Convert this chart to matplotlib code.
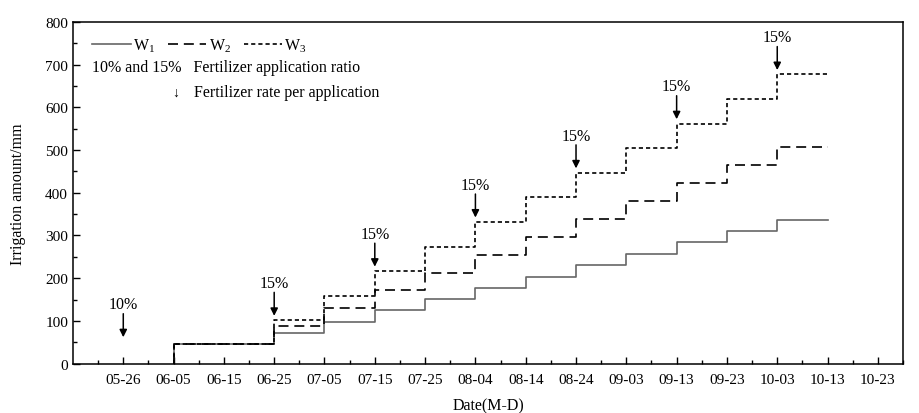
import datetime as dt
import matplotlib
matplotlib.use("Agg")
import matplotlib.pyplot as plt
import matplotlib.dates as mdates

plt.rcParams['font.family'] = ['Liberation Serif', 'DejaVu Serif']
plt.rcParams['mathtext.fontset'] = 'custom'
plt.rcParams['mathtext.rm'] = 'Liberation Serif'
plt.rcParams['mathtext.it'] = 'Liberation Serif:italic'

# irrigation dates (M-D) and cumulative irrigation amount (mm)
step_dates = ['06-05', '06-25', '07-05', '07-15', '07-25', '08-04', '08-14',
              '08-24', '09-03', '09-13', '09-23', '10-03', '10-13']
w1 = [45, 71, 98, 125, 151, 178, 204, 230, 257, 284, 311, 337]
w2 = [45, 89, 130, 172, 213, 255, 297, 339, 381, 423, 466, 508]
w3 = [45, 102, 159, 217, 274, 332, 390, 447, 505, 562, 620, 677]

# fertilization events
fert_dates = ['05-26', '06-25', '07-15', '08-04', '08-24', '09-13', '10-03']
fert_ratio = ['10%', '15%', '15%', '15%', '15%', '15%', '15%']
fert_tip = [62, 112, 227, 342, 457, 572, 687]


def to_date(md):
    m, d = md.split('-')
    return dt.datetime(2021, int(m), int(d))


xs = [to_date(s) for s in step_dates]

fig = plt.figure(figsize=(9.19, 4.14), dpi=100)
ax = fig.add_axes([0.0794, 0.119, 0.9032, 0.826])

styles = [
    ('W$_1$', w1, dict(color='#666666', linestyle='-')),
    ('W$_2$', w2, dict(color='black', linestyle=(0, (6, 3.5)))),
    ('W$_3$', w3, dict(color='black', linestyle=(0, (2.5, 1.8)))),
]
for name, vals, kw in styles:
    xv = [xs[0]] + xs
    yv = [0] + vals + [vals[-1]]
    ax.step(xv, yv, where='post', lw=1.2, label=name, **kw)

for d, lab, tip in zip(fert_dates, fert_ratio, fert_tip):
    x = to_date(d)
    ax.annotate('', xy=(x, tip), xytext=(x, tip + 55),
                arrowprops=dict(arrowstyle='-|>', color='black', lw=1.1,
                                mutation_scale=11, shrinkA=0, shrinkB=0))
    ax.text(x, tip + 58, lab, ha='center', va='bottom', fontsize=11.5)

ax.set_xlim(to_date('05-16'), to_date('10-23'))
ax.set_ylim(0, 800)
ticks = [to_date('05-26') + dt.timedelta(days=10 * i) for i in range(16)]
ax.set_xticks(ticks)
ax.xaxis.set_major_formatter(mdates.DateFormatter('%m-%d'))
ax.set_xticks([to_date('05-21') + dt.timedelta(days=10 * i) for i in range(17)], minor=True)
ax.set_yticks(range(0, 801, 100))
ax.set_yticks(range(50, 800, 100), minor=True)
ax.tick_params(which='both', direction='in', labelsize=11)
ax.tick_params(which='major', length=5, width=1)
ax.tick_params(which='minor', length=3, width=1)
ax.tick_params(axis='x', which='major', pad=7)
for sp in ax.spines.values():
    sp.set_linewidth(1.1)

ax.set_xlabel('Date(M-D)', fontsize=11.5, labelpad=8)
ax.set_ylabel('Irrigation amount/mm', fontsize=11.5, labelpad=14)

ax.legend(loc='upper left', ncol=3, frameon=False, fontsize=11.5,
          handlelength=2.4, handletextpad=0.15, columnspacing=0.8,
          bbox_to_anchor=(0.006, 1.0), borderaxespad=0.5)
ax.text(0.023, 0.8675, '10% and 15%   Fertilizer application ratio',
        transform=ax.transAxes, va='center', ha='left', fontsize=11.5)
ax.text(0.124, 0.794, '↓', transform=ax.transAxes, va='center', ha='center', fontsize=10)
ax.text(0.146, 0.794, 'Fertilizer rate per application',
        transform=ax.transAxes, va='center', ha='left', fontsize=11.5)

fig.savefig('out.png', dpi=100)
